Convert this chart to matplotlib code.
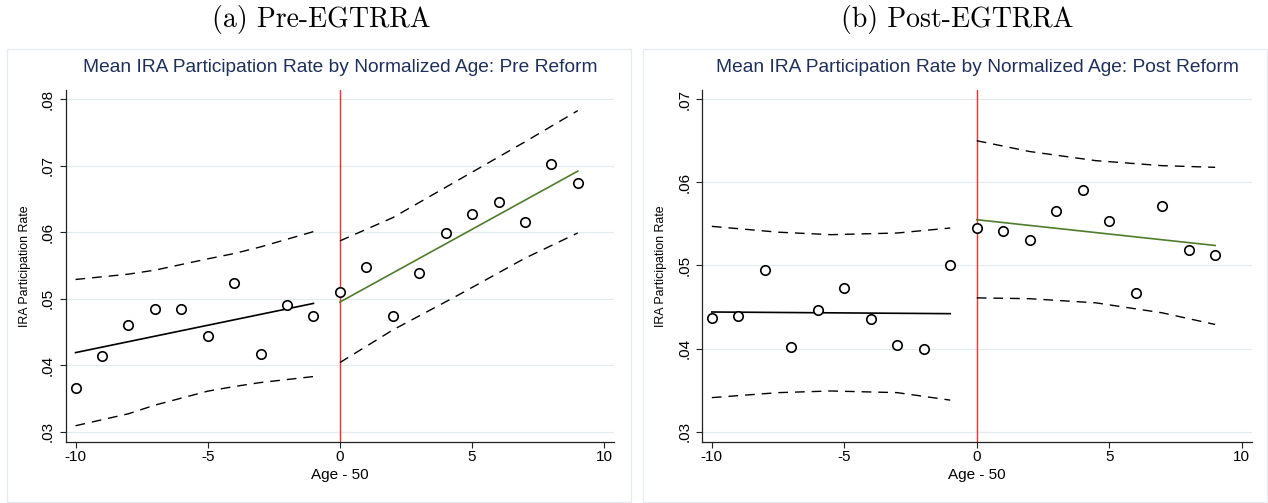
import matplotlib.pyplot as plt
from matplotlib.patches import Rectangle

plt.rcParams['font.family'] = ['Liberation Sans', 'DejaVu Sans']
plt.rcParams['axes.unicode_minus'] = False

# mean participation rate by normalized age (age - 50)
ages_below = [-10, -9, -8, -7, -6, -5, -4, -3, -2, -1]
ages_above = [0, 1, 2, 3, 4, 5, 6, 7, 8, 9]

pre_below = [0.0366, 0.0414, 0.0461, 0.0484, 0.0485, 0.0444, 0.0523, 0.0417, 0.0490, 0.0474]
pre_above = [0.0510, 0.0548, 0.0474, 0.0538, 0.0599, 0.0627, 0.0646, 0.0616, 0.0703, 0.0674]
post_below = [0.0437, 0.0439, 0.0495, 0.0402, 0.0446, 0.0473, 0.0435, 0.0404, 0.0400, 0.0500]
post_above = [0.0545, 0.0542, 0.0530, 0.0565, 0.0591, 0.0554, 0.0467, 0.0571, 0.0518, 0.0513]

# fitted lines, value at first and last age of each side
fit_x_below = [-10, -1]
fit_x_above = [0, 9]
pre_fit_below = [0.0419, 0.0493]
pre_fit_above = [0.0495, 0.0692]
post_fit_below = [0.0444, 0.0442]
post_fit_above = [0.0555, 0.0524]

# confidence bands
pre_ci_x_below = [-10, -8, -7, -5, -4, -3, -1]
pre_ci_hi_below = [0.0529, 0.0537, 0.0543, 0.0560, 0.0568, 0.0578, 0.0601]
pre_ci_lo_below = [0.0309, 0.0327, 0.0340, 0.0361, 0.0368, 0.0374, 0.0383]
pre_ci_x_above = [0, 2, 4.5, 7, 9]
pre_ci_hi_above = [0.0587, 0.0622, 0.0679, 0.0736, 0.0783]
pre_ci_lo_above = [0.0404, 0.0453, 0.0506, 0.0561, 0.0599]

post_ci_x_below = [-10, -7.5, -5.5, -3, -1]
post_ci_hi_below = [0.0547, 0.0540, 0.0537, 0.0539, 0.0545]
post_ci_lo_below = [0.0341, 0.0347, 0.0349, 0.0347, 0.0338]
post_ci_x_above = [0, 2, 4.5, 7, 9]
post_ci_hi_above = [0.0650, 0.0637, 0.0626, 0.0620, 0.0618]
post_ci_lo_above = [0.0461, 0.0460, 0.0455, 0.0443, 0.0429]

pre_yticks = [0.03, 0.04, 0.05, 0.06, 0.07, 0.08]
post_yticks = [0.03, 0.04, 0.05, 0.06, 0.07]
xticks = [-10, -5, 0, 5, 10]

W, H = 1268, 503
TITLE_COLOR = '#1e2f5c'
GRID_COLOR = '#e4ebef'
FIT_GREEN = '#4f7d2c'


def box(left, top, right, bottom):
    return [left / W, 1 - bottom / H, (right - left) / W, (bottom - top) / H]


fig = plt.figure(figsize=(W / 100, H / 100), dpi=100)

panels = [
    dict(frame=(7, 49, 631, 502), ax=(66, 90, 614.3, 441.7),
         caption='(a) Pre-EGTRRA', cap_x=321,
         title='Mean IRA Participation Rate by Normalized Age: Pre Reform',
         below=pre_below, above=pre_above,
         fit_below=pre_fit_below, fit_above=pre_fit_above,
         ci_below=(pre_ci_x_below, pre_ci_hi_below, pre_ci_lo_below),
         ci_above=(pre_ci_x_above, pre_ci_hi_above, pre_ci_lo_above),
         yticks=pre_yticks, ylim=(0.0285, 0.0814)),
    dict(frame=(643.5, 49, 1267, 502), ax=(702.3, 90, 1251.7, 441.7),
         caption='(b) Post-EGTRRA', cap_x=957.5,
         title='Mean IRA Participation Rate by Normalized Age: Post Reform',
         below=post_below, above=post_above,
         fit_below=post_fit_below, fit_above=post_fit_above,
         ci_below=(post_ci_x_below, post_ci_hi_below, post_ci_lo_below),
         ci_above=(post_ci_x_above, post_ci_hi_above, post_ci_lo_above),
         yticks=post_yticks, ylim=(0.0288, 0.0711)),
]

for p in panels:
    fl, ft, fr, fb = p['frame']
    fig.add_artist(Rectangle((fl / W, 1 - fb / H), (fr - fl) / W, (fb - ft) / H,
                             transform=fig.transFigure, fill=False,
                             ec='#e6ecf0', lw=1.0))
    fig.text(p['cap_x'] / W, 1 - 20 / H, p['caption'], family='cmr10',
             fontsize=20, ha='center', va='center')

    al, at, ar, ab = p['ax']
    ax = fig.add_axes(box(al, at, ar, ab))
    fig.text((al + ar) / 2 / W, 1 - 67 / H, p['title'], color=TITLE_COLOR,
             fontsize=13.75, ha='center', va='center')

    ax.set_xlim(-10.36, 10.38)
    ax.set_ylim(*p['ylim'])

    for yv in p['yticks']:
        ax.axhline(yv, color=GRID_COLOR, lw=0.9, zorder=0)
    ax.axvline(0, color='#ff2a2a', lw=1.0, zorder=1)

    for cx, hi, lo in (p['ci_below'], p['ci_above']):
        ax.plot(cx, hi, color='black', lw=1.0, dashes=(7, 5), zorder=2)
        ax.plot(cx, lo, color='black', lw=1.0, dashes=(7, 5), zorder=2)

    ax.plot(fit_x_below, p['fit_below'], color='black', lw=1.2, zorder=3)
    ax.plot(fit_x_above, p['fit_above'], color=FIT_GREEN, lw=1.2, zorder=3)

    ax.plot(ages_below, p['below'], 'o', ms=6.8, mfc='white', mec='black',
            mew=1.2, zorder=4)
    ax.plot(ages_above, p['above'], 'o', ms=6.8, mfc='white', mec='black',
            mew=1.2, zorder=4)

    for side in ('top', 'right'):
        ax.spines[side].set_visible(False)
    for side in ('left', 'bottom'):
        ax.spines[side].set_color('#222222')
        ax.spines[side].set_linewidth(0.9)

    ax.set_xticks(xticks)
    ax.set_yticks(p['yticks'],
                  labels=[f'{v:.2f}'.lstrip('0') for v in p['yticks']],
                  rotation=90, va='center')
    ax.tick_params(axis='both', direction='out', length=4.3, width=0.8,
                   color='#222222', labelsize=11)
    ax.tick_params(axis='y', pad=3.6)
    ax.tick_params(axis='x', pad=1.5)

    axw = ar - al
    axh = ab - at
    ax.set_xlabel('Age - 50', fontsize=11, va='center')
    ax.xaxis.set_label_coords(0.5, -(475 - ab) / axh)
    ax.set_ylabel('IRA Participation Rate', fontsize=8.9, va='center')
    ax.yaxis.set_label_coords(-41 / axw, 0.5)

fig.savefig('out.png', dpi=100)
